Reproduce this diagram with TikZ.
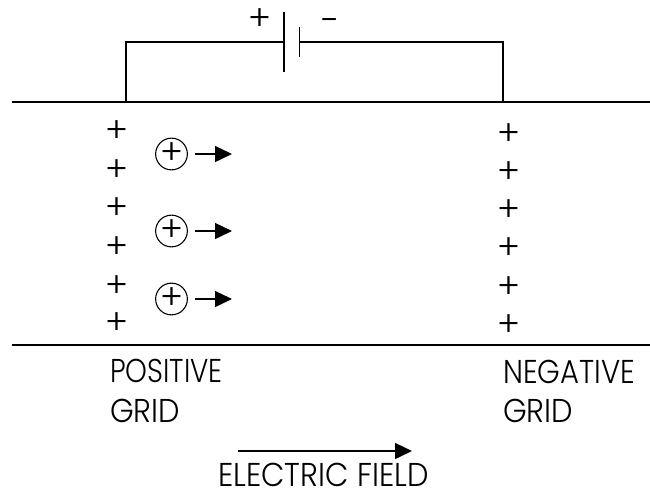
\documentclass[tikz,border=0pt]{standalone}
\usepackage{fontspec}
\setmainfont{Poppins}[UprightFont=* Light]
\usetikzlibrary{arrows.meta}

\tikzset{
  wire/.style={line width=1.5pt},
  grid/.style={line width=1.5pt},
  ion/.style={draw, circle, line width=1.1pt, minimum size=31pt, inner sep=0pt, font=\fontsize{35}{35}\selectfont},
  charge/.style={inner sep=0pt, yshift=-2pt, font=\fontsize{35}{35}\selectfont},
  lab/.style={anchor=base west, inner sep=0pt, font=\fontsize{33}{33}\selectfont},
  drift/.style={line width=1.4pt, -{Triangle[length=17pt,width=16pt]}},
}

\begin{document}
\begin{tikzpicture}[x=1pt, y=-1pt]
  \useasboundingbox (0,0) rectangle (650,491);

  % grids
  \coordinate (p1) at (12,102);
  \coordinate (p2) at (650,102);
  \coordinate (n1) at (12,345);
  \coordinate (n2) at (650,345);
  \draw[grid] (p1) -- (p2);
  \draw[grid] (n1) -- (n2);

  % battery
  \coordinate (a) at (126,102);
  \coordinate (b) at (126,42);
  \coordinate (c) at (284,42);
  \coordinate (c1) at (284,12);
  \coordinate (c2) at (284,72);
  \coordinate (d) at (299.5,42);
  \coordinate (d1) at (299.5,27);
  \coordinate (d2) at (299.5,57);
  \coordinate (e) at (503,42);
  \coordinate (f) at (503,102);
  \draw[wire] (a) -- (b) -- (c);
  \draw[wire] (d) -- (e) -- (f);
  \draw[wire] (c1) -- (c2);
  \draw[wire] (d1) -- (d2);
  \node[charge] (bplus) at (260,18) {+};
  \node[charge, yshift=-4pt] (bminus) at (330,19) {−};

  % charges on the grids
  \foreach \i/\y in {1/130, 2/169, 3/207, 4/246, 5/285, 6/322} {
    \node[charge] (l\i) at (117,\y) {+};
  }
  \foreach \i/\y in {1/133, 2/171, 3/209, 4/247, 5/286, 6/324} {
    \node[charge] (r\i) at (509,\y) {+};
  }

  % moving ions
  \foreach \i/\y in {1/154, 2/231, 3/299} {
    \node[ion] (ion\i) at (171.5,\y) {\raisebox{-2pt}{+}};
    \coordinate (tip\i) at (232,\y);
    \draw[drift, shorten <=7pt] (ion\i) -- (tip\i);
  }

  \node[lab, xscale=0.84] (pos) at (110,382) {POSITIVE};
  \node[lab, xscale=0.92] (gpos) at (110,422) {GRID};
  \node[lab, xscale=0.88] (neg) at (503,383) {NEGATIVE};
  \node[lab, xscale=0.92] (gneg) at (503,422) {GRID};

  % field
  \coordinate (e1) at (238,451);
  \coordinate (e2) at (412,451);
  \draw[drift] (e1) -- (e2);
  \node[lab, xscale=0.92] (field) at (218,486) {ELECTRIC FIELD};
\end{tikzpicture}
\end{document}
